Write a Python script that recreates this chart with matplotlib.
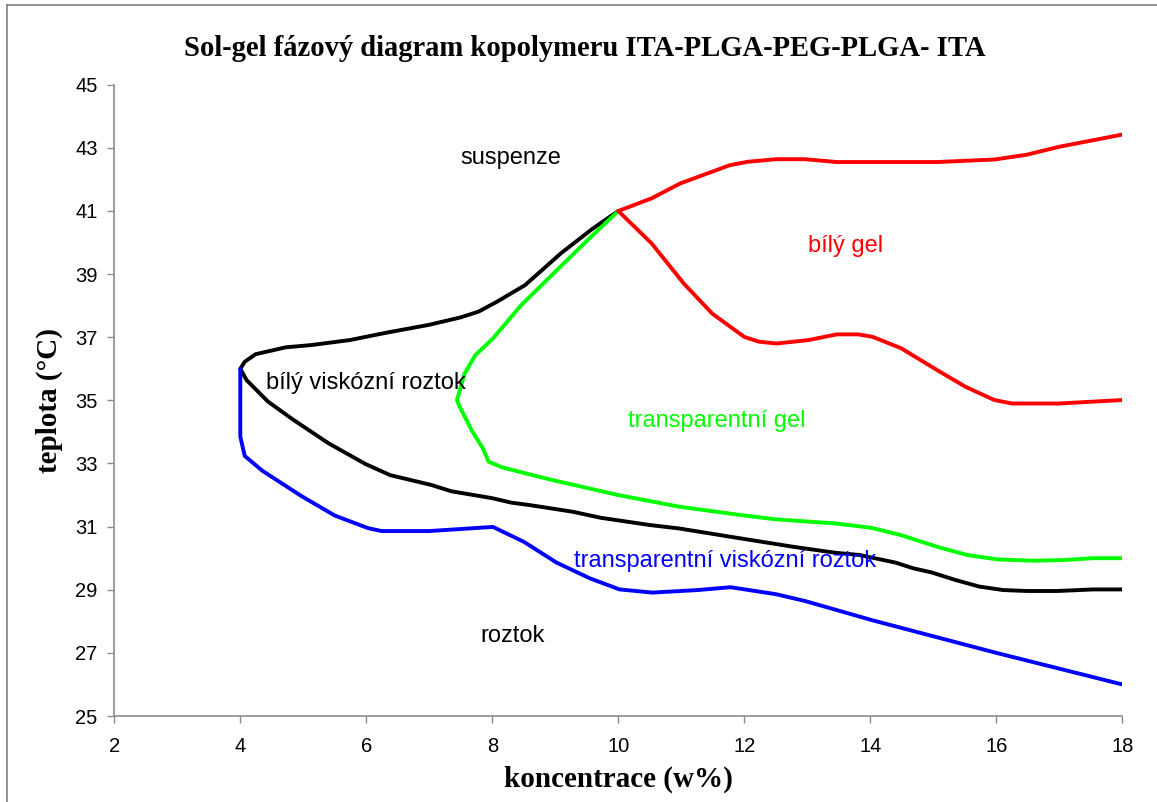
import matplotlib
matplotlib.use("Agg")
import matplotlib.pyplot as plt
from matplotlib.lines import Line2D

# ---- data ----
black_x = [10.0, 9.6, 9.09, 8.52, 8.07, 7.78, 7.5, 6.99, 6.31, 5.74, 5.12, 4.72, 4.24, 4.07, 4.0,
           4.1, 4.44, 4.83, 5.4, 5.99, 6.38, 7.03, 7.35, 8.0, 8.3, 8.6, 9.28, 9.72, 10.5, 10.97,
           11.93, 12.78, 13.45, 13.83, 14.4, 14.68, 14.97, 15.35, 15.73, 16.11, 16.49, 16.97, 17.54, 18.0]
black_y = [41.0, 40.45, 39.66, 38.65, 38.12, 37.81, 37.63, 37.39, 37.14, 36.91, 36.75, 36.68, 36.46, 36.22, 36.0,
           35.64, 34.96, 34.4, 33.64, 32.98, 32.63, 32.32, 32.12, 31.9, 31.76, 31.68, 31.47, 31.28, 31.05, 30.94,
           30.63, 30.36, 30.17, 30.1, 29.86, 29.68, 29.55, 29.31, 29.1, 28.99, 28.96, 28.96, 29.01, 29.01]

green_x = [10.0, 9.54, 8.92, 8.46, 8.01, 7.73, 7.56, 7.44, 7.47, 7.67, 7.85, 7.94, 8.15, 8.9, 10.0,
           10.97, 11.93, 12.5, 13.45, 14.02, 14.49, 15.06, 15.54, 16.02, 16.59, 17.06, 17.54, 18.0]
green_y = [41.0, 40.13, 38.92, 38.02, 36.96, 36.43, 35.85, 35.01, 34.85, 34.06, 33.48, 33.06, 32.88, 32.5, 32.0,
           31.63, 31.37, 31.23, 31.1, 30.96, 30.73, 30.36, 30.1, 29.96, 29.92, 29.94, 30.0, 30.0]

red_upper_x = [10.0, 10.53, 10.98, 11.77, 12.06, 12.51, 12.96, 13.47, 15.06, 15.97, 16.48, 16.99, 18.0]
red_upper_y = [41.0, 41.40, 41.87, 42.45, 42.56, 42.64, 42.64, 42.55, 42.55, 42.63, 42.78, 43.03, 43.42]

red_lower_x = [10.0, 10.53, 11.04, 11.49, 12.0, 12.23, 12.51, 13.02, 13.47, 13.81, 14.04, 14.49, 15.06,
               15.51, 15.97, 16.25, 16.99, 18.0]
red_lower_y = [41.0, 39.97, 38.70, 37.75, 37.01, 36.86, 36.80, 36.91, 37.09, 37.09, 37.01, 36.65, 35.96,
               35.43, 35.01, 34.90, 34.90, 35.01]

blue_x = [4.0, 4.0, 4.07, 4.35, 4.96, 5.5, 6.03, 6.24, 7.0, 8.01, 8.5, 9.02, 9.55, 10.02, 10.54,
          11.26, 11.78, 12.5, 12.97, 14.02, 16.0, 18.0]
blue_y = [36.0, 33.85, 33.24, 32.77, 31.98, 31.35, 30.95, 30.86, 30.86, 30.99, 30.52, 29.86, 29.36, 29.01, 28.91,
          28.99, 29.08, 28.86, 28.64, 28.04, 27.0, 26.0]

region_labels = ["suspenze", "bílý gel", "bílý viskózní roztok", "transparentní gel",
                 "transparentní viskózní roztok", "roztok"]
region_x = [8.29, 13.6, 6.0, 11.57, 11.69, 8.32]
region_y = [42.67, 39.9, 35.55, 34.34, 29.9, 27.53]
region_colors = ["black", "#ff0000", "black", "#00ff00", "#0000ff", "black"]

x_ticks = [2, 4, 6, 8, 10, 12, 14, 16, 18]
y_ticks = [25, 27, 29, 31, 33, 35, 37, 39, 41, 43, 45]

title = "Sol-gel fázový diagram kopolymeru ITA-PLGA-PEG-PLGA- ITA"
xlabel = "koncentrace (w%)"
ylabel = "teplota (°C)"

# ---- figure ----
W, H = 1157, 802
fig = plt.figure(figsize=(W / 100, H / 100), dpi=100)
fig.patch.set_facecolor("white")
ax = fig.add_axes([114.3 / W, 1 - 716 / H, (1122.3 - 114.3) / W, (716 - 84.7) / H])

lw = 2.8
kw = dict(linewidth=lw, solid_joinstyle="round", solid_capstyle="round")
ax.plot(black_x, black_y, color="black", **kw)
ax.plot(green_x, green_y, color="#00ff00", **kw)
ax.plot(red_upper_x, red_upper_y, color="#ff0000", **kw)
ax.plot(red_lower_x, red_lower_y, color="#ff0000", **kw)
ax.plot(blue_x, blue_y, color="#0000ff", **kw)

sans = ["Liberation Sans", "DejaVu Sans"]
serif = ["Liberation Serif", "DejaVu Serif"]
for t, x, y, c in zip(region_labels, region_x, region_y, region_colors):
    ax.text(x, y, t, color=c, ha="center", va="center", fontsize=17, family=sans)

ax.set_xlim(2, 18)
ax.set_ylim(25, 45)
ax.set_xticks(x_ticks)
ax.set_yticks(y_ticks)
ax.set_xticklabels([str(v) for v in x_ticks], family=sans, fontsize=14.5)
ax.set_yticklabels([str(v) for v in y_ticks], family=sans, fontsize=14.5)
for s in ["top", "right"]:
    ax.spines[s].set_visible(False)
for s in ["left", "bottom"]:
    ax.spines[s].set_color("#8c8c8c")
    ax.spines[s].set_linewidth(1.2)
ax.tick_params(axis="both", direction="out", length=5, width=1, color="#8c8c8c")
ax.tick_params(axis="x", pad=10)
ax.tick_params(axis="y", pad=7)

ax.set_xlabel(xlabel, family=serif, fontweight="bold", fontsize=21, labelpad=7)
ax.set_ylabel(ylabel, family=serif, fontweight="bold", fontsize=21, labelpad=9)
fig.text(585 / W, 1 - 48 / H, title, family=serif, fontweight="bold", fontsize=20.6,
         ha="center", va="center")

# outer chart-area frame (left and top edges visible)
fig.add_artist(Line2D([7 / W, 7 / W], [0, 1 - 5 / H], transform=fig.transFigure,
                      color="#808080", linewidth=1.2))
fig.add_artist(Line2D([7 / W, 1], [1 - 5 / H, 1 - 5 / H], transform=fig.transFigure,
                      color="#808080", linewidth=1.2))

fig.savefig("out.png", dpi=100, facecolor="white")
